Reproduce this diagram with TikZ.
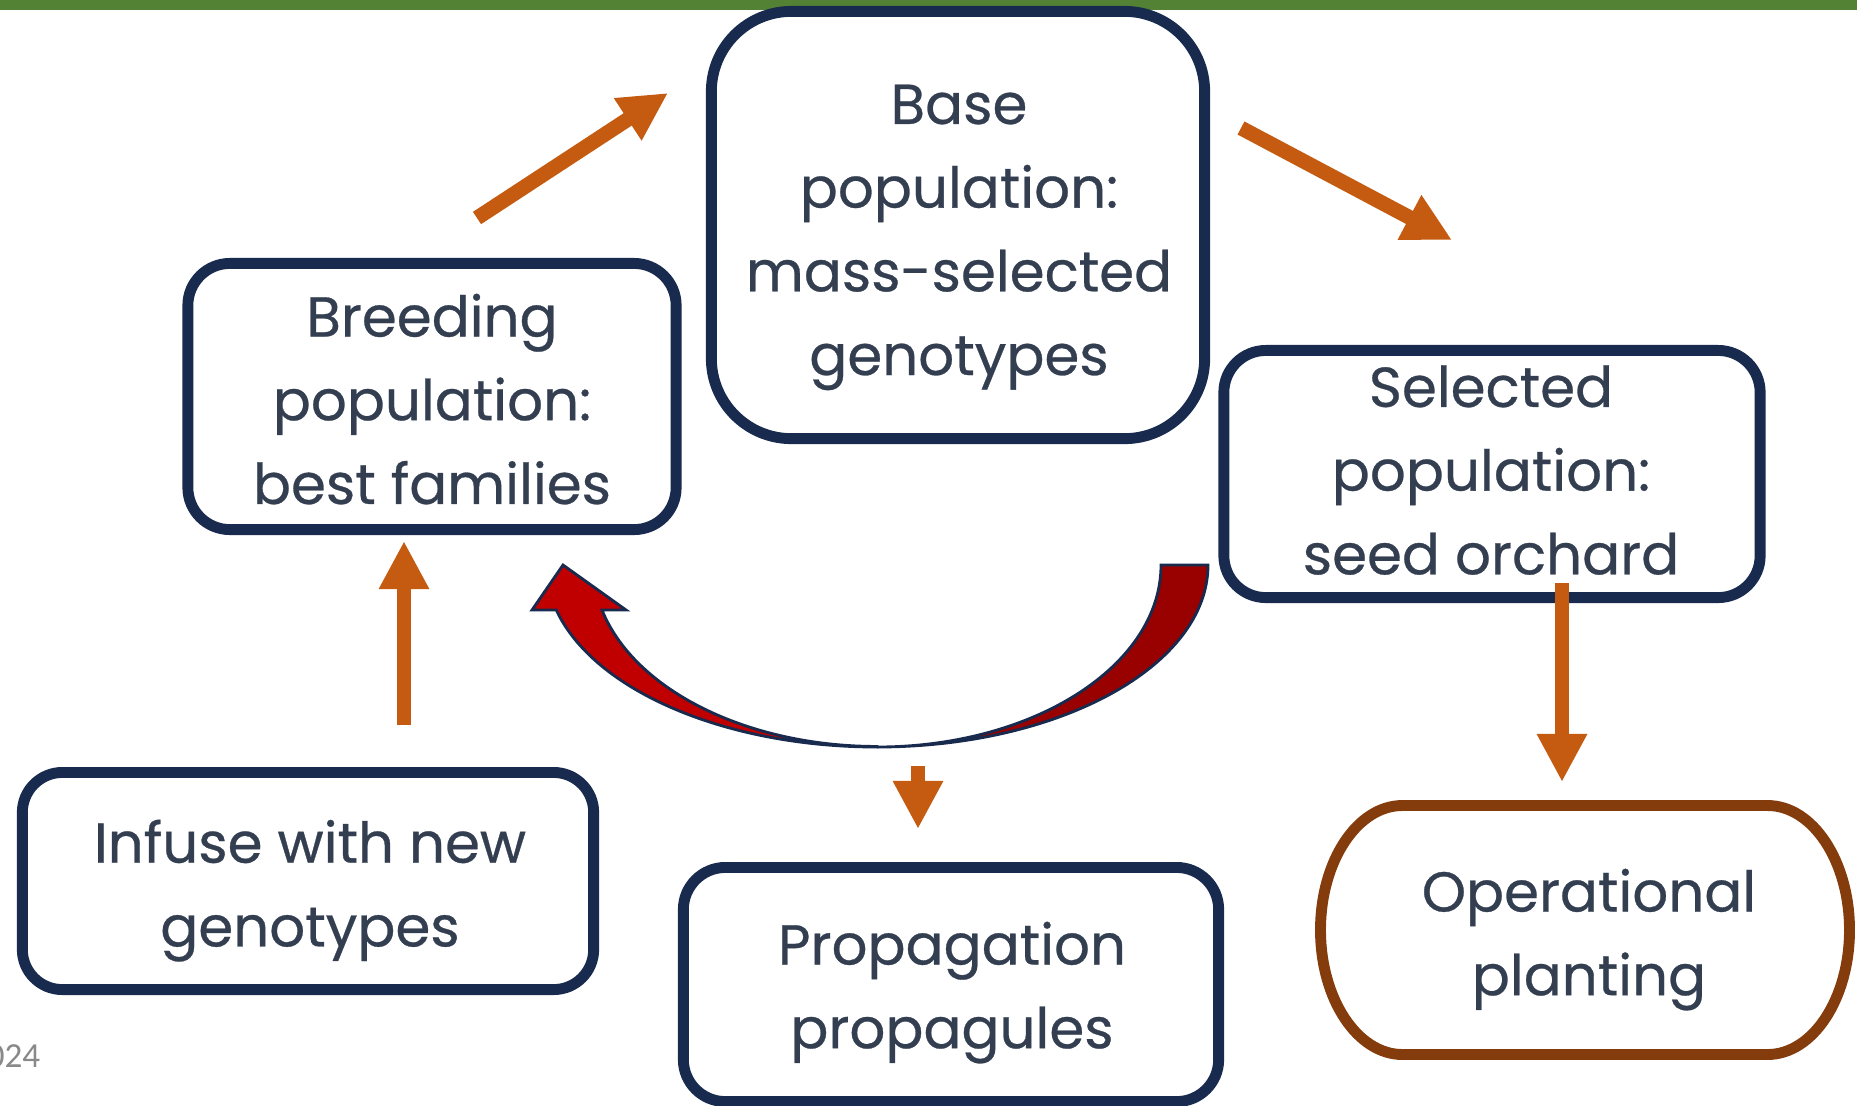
\documentclass[tikz,border=0pt]{standalone}
\usepackage{fontspec}
\setmainfont{Poppins}[FakeBold=0.5]
\newfontfamily\notefont{Carlito}
\usetikzlibrary{arrows.meta}
\definecolor{bargreen}{RGB}{84,130,53}
\definecolor{navy}{RGB}{24,43,78}
\definecolor{txtcol}{RGB}{51,63,80}
\definecolor{orng}{RGB}{197,90,17}
\definecolor{brn}{RGB}{132,60,12}
\definecolor{bred}{RGB}{192,0,0}
\definecolor{dred}{RGB}{153,0,0}
\definecolor{notegray}{RGB}{137,137,137}
\newcommand\tstrut{\rule{0pt}{12pt}}
\begin{document}
\begin{tikzpicture}[x=0.01cm,y=-0.01cm,
  box/.style={draw=navy, line width=3.1pt, fill=white, inner sep=0pt},
  opbox/.style={draw=brn, line width=3.1pt},
  txt/.style={text=txtcol, align=center, inner sep=0pt, anchor=north, font=\fontsize{16}{23.8}\selectfont},
  orarrow/.style={draw=orng, line width=4.2pt, -{Triangle[width=13.4pt,length=13.7pt]}},
  curvearrow/.style={draw=navy, line width=0.8pt, line join=miter}]
\useasboundingbox (0,0) rectangle (1857,1105);
\fill[bargreen] (0,0) rectangle (1857,10);

% boxes
\node[box, rounded corners=0.8cm, minimum width=4.93cm, minimum height=4.27cm] (base) at (958,225) {};
\node[box, rounded corners=0.42cm, minimum width=4.88cm, minimum height=2.66cm] (breed) at (432,396.5) {};
\node[box, rounded corners=0.42cm, minimum width=5.36cm, minimum height=2.47cm] (sel) at (1492,474) {};
\node[box, rounded corners=0.40cm, minimum width=5.71cm, minimum height=2.17cm] (inf) at (308,881) {};
\node[box, rounded corners=0.42cm, minimum width=5.35cm, minimum height=2.34cm] (prop) at (951,984.5) {};
\node[inner sep=0pt, minimum width=5.40cm, minimum height=2.60cm] (oper) at (1585,930) {};
\draw[opbox] (1402.5,805.5) -- (1767.5,805.5)
  arc[start angle=-90, end angle=90, x radius=82, y radius=124.5]
  -- (1402.5,1054.5)
  arc[start angle=90, end angle=270, x radius=82, y radius=124.5] -- cycle;

% texts
\node[txt] (baset) at (959,81) {\tstrut Base\\population:\\mass-selected\\genotypes};
\node[txt] (breedt) at (432,293) {\tstrut Breeding\\population:\\best families};
\node[txt] (selt) at (1491,364) {\tstrut Selected\\population:\\seed orchard};
\node[txt] (inft) at (310,819) {\tstrut Infuse with new\\genotypes};
\node[txt] (propt) at (952,921) {\tstrut Propagation\\propagules};
\node[txt] (opert) at (1589,868) {\tstrut Operational\\planting};
\node[font=\notefont\fontsize{10}{12}\selectfont, text=notegray, anchor=base east, inner sep=0pt] (yr) at (41,1067) {024};

% straight arrows
\coordinate (a1s) at (477,218); \coordinate (a1e) at (668,93);
\coordinate (a2s) at (1241,128); \coordinate (a2e) at (1452,240);
\coordinate (a3s) at (404,725); \coordinate (a3e) at (404,541);
\coordinate (a4s) at (918,766); \coordinate (a4e) at (918,829);
\coordinate (a5s) at (1562,583); \coordinate (a5e) at (1562,782);
\draw[orarrow] (a1s) -- (a1e);
\draw[orarrow] (a2s) -- (a2e);
\draw[orarrow] (a3s) -- (a3e);
\draw[orarrow] (a4s) -- (a4e);
\draw[orarrow] (a5s) -- (a5e);

% curved arrow
\filldraw[curvearrow, fill=dred] (1208,565)
  arc[start angle=0, end angle=90, x radius=331, y radius=182]
  arc[start angle=90, end angle=0, x radius=284, y radius=182] -- cycle;
\filldraw[curvearrow, fill=bred] (877,747)
  arc[start angle=90, end angle=165.7, x radius=331, y radius=182]
  -- (532,610) -- (563,565) -- (626,610) -- (602,610)
  arc[start angle=165.5, end angle=90, x radius=284, y radius=182] -- cycle;
\end{tikzpicture}
\end{document}
